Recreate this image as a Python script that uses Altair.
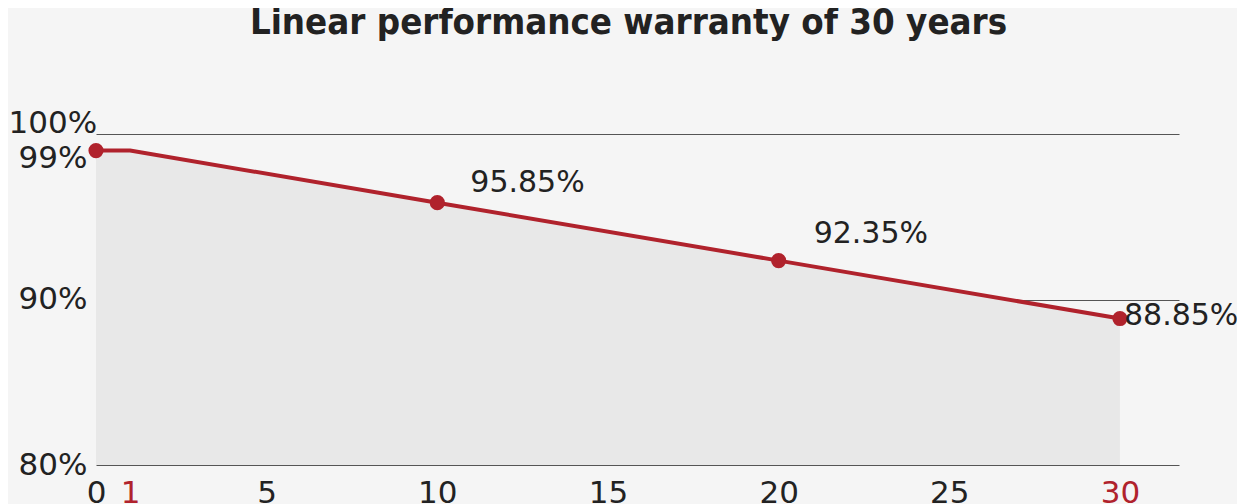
import altair as alt
import pandas as pd

# ---- data ----
line_years = [0, 1, 10, 20, 30]
line_values = [99, 99, 95.85, 92.35, 88.85]
point_years = [0, 10, 20, 30]
point_values = [99, 95.85, 92.35, 88.85]
label_years = [10, 20, 30]
label_values = [95.85, 92.35, 88.85]
label_texts = ["95.85%", "92.35%", "88.85%"]
x_ticks = [0, 1, 5, 10, 15, 20, 25, 30]
y_ticks = [80, 90, 99, 100]

RED = "#b0222c"
TEXT = "#222222"
FONT = "DejaVu Sans"

line_df = pd.DataFrame({"year": line_years, "value": line_values})
point_df = pd.DataFrame({"year": point_years, "value": point_values})

xscale = alt.Scale(domain=[0, 31.73], nice=False, zero=False)
yscale = alt.Scale(domain=[80, 100], nice=False, zero=False)

x_axis = alt.Axis(
    values=x_ticks, title=None, grid=False, domain=False, ticks=False,
    labelFont=FONT, labelFontSize=31,
    labelColor={"expr": f"(datum.value == 1 || datum.value == 30) ? '{RED}' : '{TEXT}'"},
    labelPadding=13, labelBaseline="top", labelFlush=False, labelOverlap=False,
)
y_axis = alt.Axis(
    values=y_ticks, title=None, domain=False, ticks=False, grid=True,
    gridColor="#555555", gridWidth=1,
    gridOpacity={"expr": "datum.value == 99 ? 0 : 1"},
    labelFont=FONT, labelFontSize=31, labelColor=TEXT,
    labelPadding={"expr": "datum.value == 100 ? 88 : 9"},
    labelAlign={"expr": "datum.value == 100 ? 'left' : 'right'"},
    labelExpr="datum.value + '%'", labelOverlap=False, labelFlush=False,
    labelBaseline="middle",
    labelOffset={"expr": "datum.value == 100 ? -11 : (datum.value == 99 ? 8 : 0)"},
)

area = alt.Chart(line_df).mark_area(color="#e8e8e8", opacity=1).encode(
    x=alt.X("year:Q", scale=xscale, axis=x_axis),
    y=alt.Y("value:Q", scale=yscale, axis=y_axis),
    y2=alt.Y2Datum(80),
)

line = alt.Chart(line_df).mark_line(color=RED, strokeWidth=4).encode(
    x=alt.X("year:Q", scale=xscale),
    y=alt.Y("value:Q", scale=yscale),
)

points = alt.Chart(point_df).mark_point(
    filled=True, color=RED, size=230, opacity=1, shape="circle"
).encode(
    x=alt.X("year:Q", scale=xscale),
    y=alt.Y("value:Q", scale=yscale),
)

offsets = [(33, -20), (35, -27), (4, -3)]
labels = []
for yr, val, txt, (dx, dy) in zip(label_years, label_values, label_texts, offsets):
    df = pd.DataFrame({"year": [yr], "value": [val], "label": [txt]})
    labels.append(
        alt.Chart(df).mark_text(
            align="left", baseline="middle", dx=dx, dy=dy,
            font=FONT, fontSize=30, color=TEXT,
        ).encode(
            x=alt.X("year:Q", scale=xscale),
            y=alt.Y("value:Q", scale=yscale),
            text="label:N",
        )
    )

chart = alt.layer(area, line, points, *labels).properties(
    width=1083,
    height=331,
    title=alt.TitleParams(
        "Linear performance warranty of 30 years",
        font="DejaVu Sans Condensed, DejaVu Sans", fontSize=36.3, fontWeight="bold",
        color=TEXT, anchor="middle", dx=-9, dy=-62,
    ),
    padding={"left": 88, "top": 126, "right": 58, "bottom": 40},
    autosize=alt.AutoSizeParams(type="none"),
).configure(background="#f5f5f5").configure_view(stroke=None)

chart.save("out.html", embed_options={"renderer": "svg", "actions": False})
